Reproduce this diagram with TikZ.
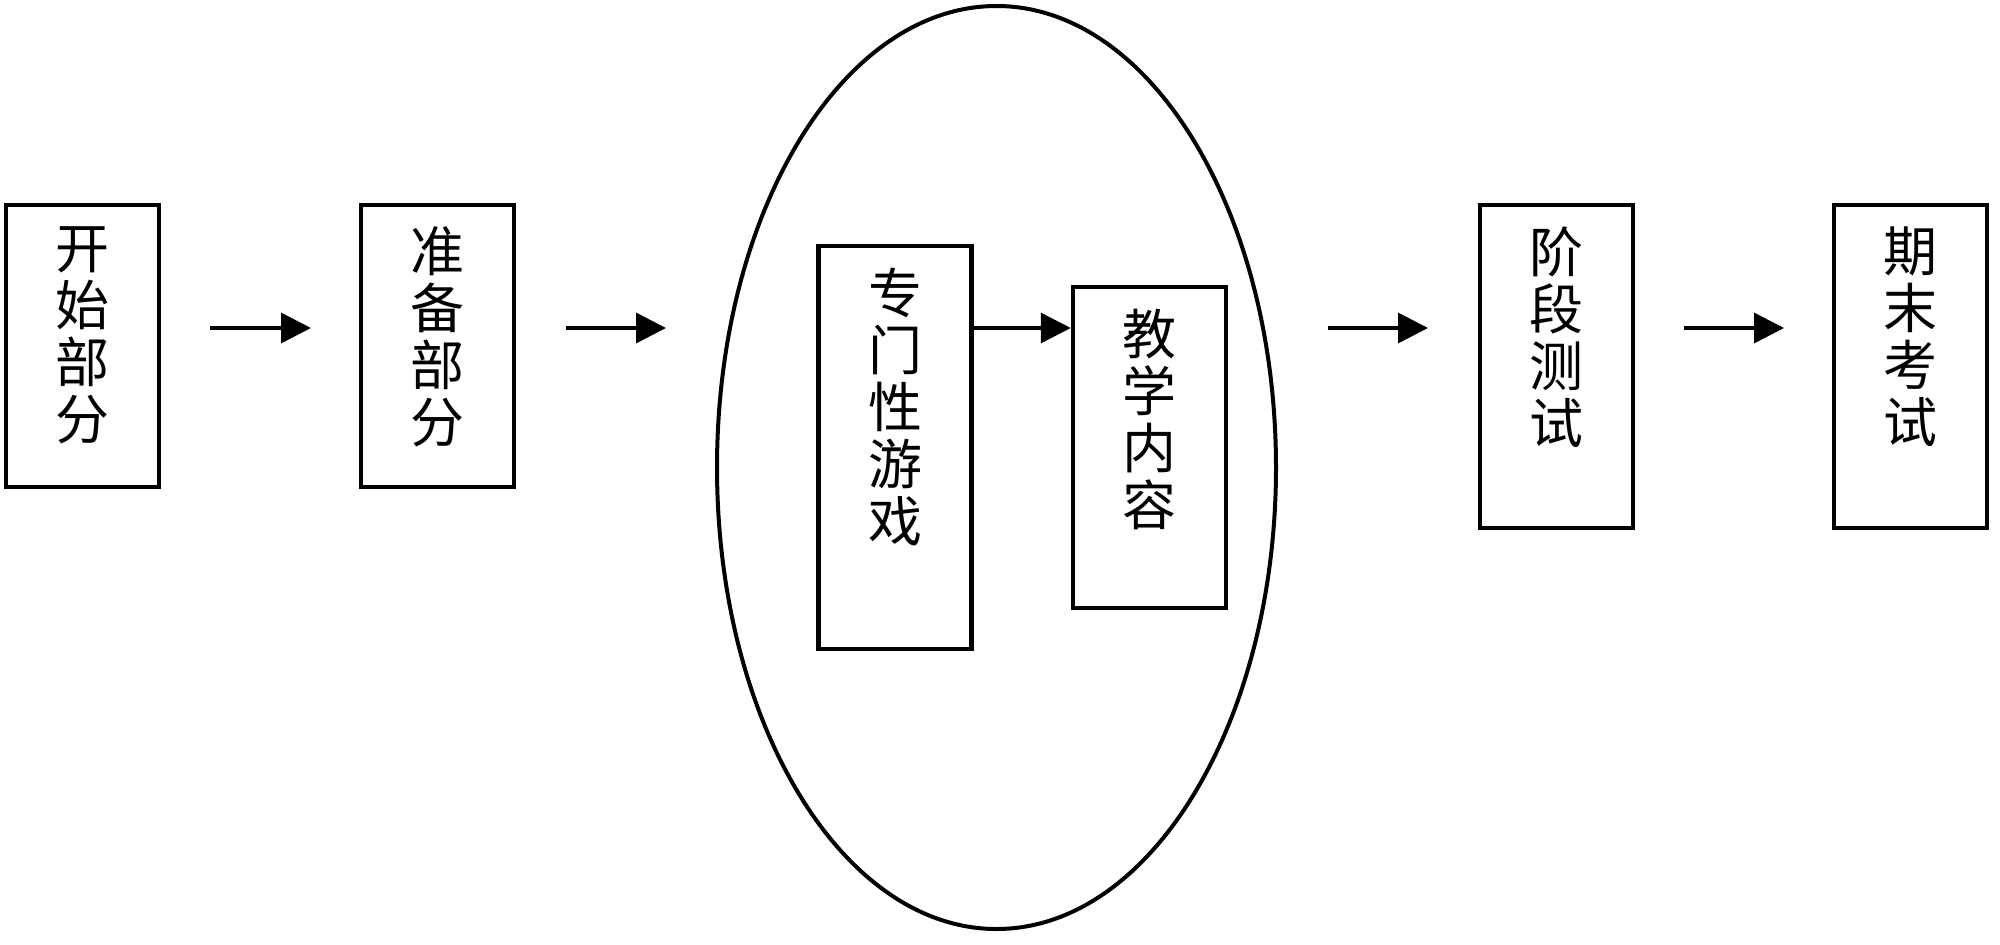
\documentclass[tikz,border=0pt]{standalone}
\usepackage{fontspec}
\newfontfamily\cjk{Noto Sans CJK SC}
\usetikzlibrary{arrows.meta,shapes.geometric}
\begin{document}
\begin{tikzpicture}[x=1pt,y=-1pt,
  stagebox/.style={draw,line width=4.5pt,inner sep=0pt,minimum width=153pt},
  stagetext/.style={anchor=north,inner sep=0pt,align=center,font={\cjk\fontsize{54}{57}\selectfont}},
  flow/.style={line width=3.5pt,-{Triangle[length=30pt,width=30pt]}}]
\useasboundingbox (0,0) rectangle (2000,945);
\fill[white] (0,0) rectangle (2000,945);
% ellipse
\node[draw,ellipse,line width=4pt,inner sep=0pt,minimum width=559pt,minimum height=923pt] (oval) at (996.5,467.5) {};
% boxes
\node[stagebox,minimum height=282pt] (b1) at (82.5,346) {};
\node[stagebox,minimum height=282pt] (b2) at (437.5,346) {};
\node[stagebox,minimum height=403pt] (b3) at (895,447.5) {};
\node[stagebox,minimum height=321pt] (b4) at (1149.5,447.5) {};
\node[stagebox,minimum height=323pt] (b5) at (1556.5,366.5) {};
\node[stagebox,minimum height=323pt] (b6) at (1910.5,366.5) {};
% texts
\node[stagetext] (t1) at ([yshift=-24pt]b1.north) {开\\始\\部\\分};
\node[stagetext] (t2) at ([yshift=-24pt]b2.north) {准\\备\\部\\分};
\node[stagetext] (t3) at ([yshift=-24pt]b3.north) {专\\门\\性\\游\\戏};
\node[stagetext] (t4) at ([yshift=-24pt]b4.north) {教\\学\\内\\容};
\node[stagetext] (t5) at ([yshift=-24pt]b5.north) {阶\\段\\测\\试};
\node[stagetext] (t6) at ([yshift=-24pt]b6.north) {期\\末\\考\\试};
% arrows
\coordinate (a1s) at (210,328); \coordinate (a1e) at (311,328);
\coordinate (a2s) at (566,328); \coordinate (a2e) at (666,328);
\coordinate (a4s) at (1328,328); \coordinate (a4e) at (1428,328);
\coordinate (a5s) at (1684,328); \coordinate (a5e) at (1784,328);
\draw[flow] (a1s) -- (a1e);
\draw[flow] (a2s) -- (a2e);
\draw[flow] (b3.east |- 0,328) -- (b4.west |- 0,328);
\draw[flow] (a4s) -- (a4e);
\draw[flow] (a5s) -- (a5e);
\end{tikzpicture}
\end{document}
